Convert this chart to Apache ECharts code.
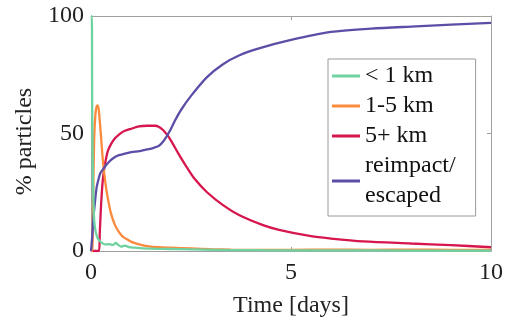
<!DOCTYPE html>
<html>
<head>
<meta charset="utf-8">
<script src="https://cdn.jsdelivr.net/npm/echarts@6/dist/echarts.min.js"></script>
<style>
  html, body { margin: 0; padding: 0; background: #fff; }
  #chart { width: 505px; height: 321px; }
</style>
</head>
<body>
<div id="chart"></div>
<script>
// data (time in days, value in %)
const smallT = [0, 0.02, 0.03, 0.05, 0.08, 0.12, 0.18, 0.25, 0.35, 0.45, 0.55, 0.62, 0.68, 0.75, 0.85, 0.95, 1.1, 1.3, 1.5, 1.8, 2.2, 2.8, 3.5, 4.5, 6, 8, 10];
const smallPct = [100, 100, 60, 30, 13, 8, 5, 3.8, 2.8, 2.9, 2.6, 3.4, 2.6, 1.9, 2.3, 1.7, 1.4, 1.1, 1.0, 0.9, 0.8, 0.6, 0.4, 0.3, 0.3, 0.2, 0.2];

const midT = [0, 0.03, 0.05, 0.08, 0.11, 0.14, 0.17, 0.2, 0.24, 0.3, 0.36, 0.42, 0.5, 0.6, 0.7, 0.8, 0.9, 1.0, 1.2, 1.4, 1.7, 2.0, 2.5, 3, 3.5, 4, 5, 6, 7, 8, 9, 10];
const midPct = [0, 0, 20, 48, 58, 61.5, 62, 59, 51, 38, 29, 22.5, 16, 11, 8, 6, 5, 4, 2.8, 2.1, 1.6, 1.4, 1.1, 0.8, 0.6, 0.5, 0.5, 0.6, 0.5, 0.6, 0.5, 0.5];

const bigT = [0, 0.2, 0.22, 0.26, 0.3, 0.35, 0.42, 0.5, 0.6, 0.7, 0.8, 0.9, 1.0, 1.2, 1.4, 1.6, 1.7, 1.8, 1.9, 2.0, 2.2, 2.4, 2.6, 2.9, 3.3, 3.7, 4.3, 4.7, 5.5, 6, 6.8, 8, 9, 10];
const bigPct = [0, 0, 8, 22, 31, 37, 42.5, 45.5, 48, 49.5, 50.8, 51.5, 52, 53, 53.3, 53.3, 52.8, 51.5, 49.5, 47, 41, 35.5, 30.5, 25, 19.5, 15.3, 11, 9, 6.3, 5.3, 4.1, 3.2, 2.5, 1.6];

const goneT = [0, 0.03, 0.06, 0.1, 0.14, 0.18, 0.23, 0.31, 0.4, 0.48, 0.6, 0.7, 0.8, 0.93, 1.1, 1.25, 1.4, 1.55, 1.7, 1.8, 1.9, 2.0, 2.1, 2.25, 2.5, 2.9, 3.3, 3.7, 4.2, 5, 6, 7, 8, 9, 10];
const gonePct = [0, 6, 14, 21, 27, 30, 33, 35, 37, 38.5, 40, 40.8, 41.2, 41.8, 42.3, 42.6, 43.2, 43.8, 44.8, 46.5, 49, 52, 55.5, 60, 66, 74, 79.5, 83.2, 86.2, 89.8, 93.2, 94.6, 95.5, 96.3, 97.1];

const names = ['< 1 km', '1-5 km', '5+ km', 'reimpact/\nescaped'];
const colors = ['#6fd3a1', '#fb8a3d', '#d6164c', '#5b4ea7'];

const xTicks = [0, 5, 10];
const yTicks = [0, 50, 100];

const FONT = "'Liberation Serif', 'DejaVu Serif', serif";
const AXIS = '#a0a0a0';

function pairs(t, v) {
  return t.map((x, i) => [x, v[i]]);
}

const seriesData = [
  pairs(smallT, smallPct),
  pairs(midT, midPct),
  pairs(bigT, bigPct),
  pairs(goneT, gonePct)
];

const baseX = {
  type: 'value',
  min: xTicks[0],
  max: xTicks[xTicks.length - 1],
  interval: xTicks[1] - xTicks[0],
  splitLine: {show: false},
  axisLine: {show: true, onZero: false, lineStyle: {color: AXIS, width: 1}},
  axisTick: {show: true, inside: true, length: 4, lineStyle: {color: AXIS}}
};
const baseY = {
  type: 'value',
  min: yTicks[0],
  max: yTicks[yTicks.length - 1],
  interval: yTicks[1] - yTicks[0],
  splitLine: {show: false},
  axisLine: {show: true, onZero: false, lineStyle: {color: AXIS, width: 1}},
  axisTick: {show: true, inside: true, length: 4, lineStyle: {color: AXIS}}
};

let option = {
  animation: false,
  backgroundColor: '#fff',
  textStyle: {fontFamily: FONT},
  grid: {left: 91, right: 14, top: 16, bottom: 70, containLabel: false, outerBoundsMode: 'none'},
  legend: {
    orient: 'vertical',
    left: 328,
    top: 59,
    data: names,
    icon: 'rect',
    itemWidth: 28,
    itemHeight: 3,
    itemGap: 0,
    padding: [2, 20, 5, 4],
    borderColor: '#9a9a9a',
    borderWidth: 1,
    backgroundColor: '#fff',
    textStyle: {fontFamily: FONT, fontSize: 24, color: '#111', lineHeight: 30}
  },
  xAxis: [
    Object.assign({}, baseX, {
      position: 'bottom',
      name: 'Time [days]',
      nameLocation: 'middle',
      nameGap: 43,
      nameTextStyle: {fontFamily: FONT, fontSize: 24, color: '#222'},
      axisLabel: {fontFamily: FONT, fontSize: 24, color: '#222', margin: 10}
    }),
    Object.assign({}, baseX, {position: 'top', axisLabel: {show: false}})
  ],
  yAxis: [
    Object.assign({}, baseY, {
      position: 'left',
      name: '% particles',
      nameLocation: 'middle',
      nameGap: 50,
      nameTextStyle: {fontFamily: FONT, fontSize: 24, color: '#222', padding: [0, 0, 0, -16]},
      axisLabel: {fontFamily: FONT, fontSize: 24, color: '#222', margin: 7}
    }),
    Object.assign({}, baseY, {position: 'right', axisLabel: {show: false}})
  ],
  series: names.map((n, i) => ({
    name: n,
    type: 'line',
    data: seriesData[i],
    showSymbol: false,
    symbol: 'none',
    smooth: 0.3,
    z: i === 3 ? 3 : 4 - i,
    lineStyle: {color: colors[i], width: 2.3},
    itemStyle: {color: colors[i]}
  }))
};

let chartDom = document.getElementById('chart');
let myChart = echarts.init(chartDom);
myChart.setOption(option);
</script>
</body>
</html>
